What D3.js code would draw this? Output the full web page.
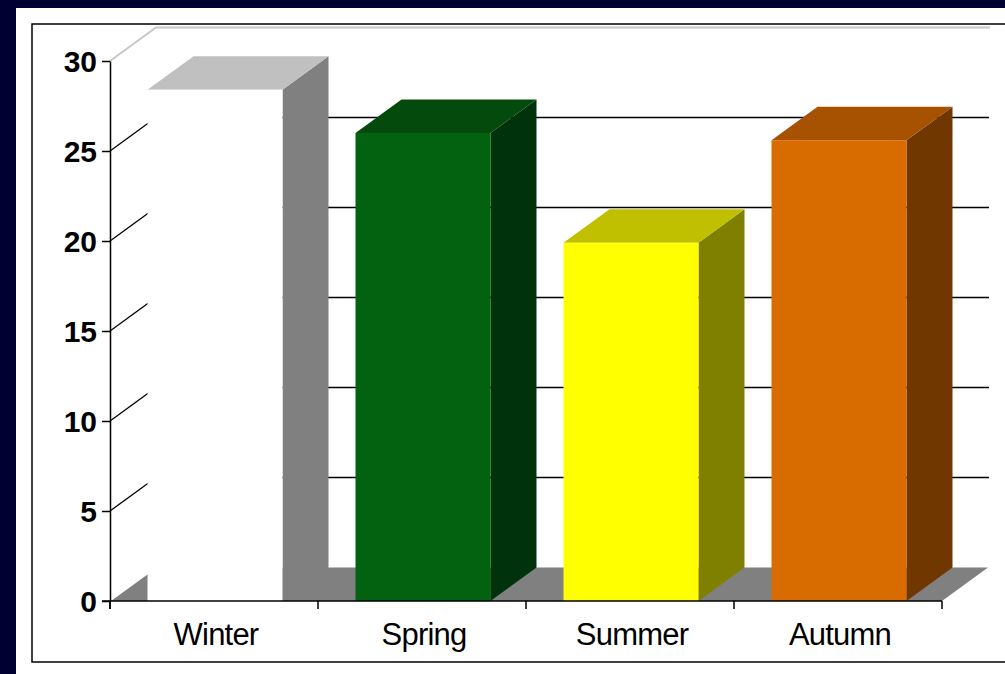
<!DOCTYPE html>
<html>
<head>
<meta charset="utf-8">
<script src="https://cdn.jsdelivr.net/npm/d3@7"></script>
<style>
  html, body { margin: 0; padding: 0; background: #000033; }
  svg { display: block; }
</style>
</head>
<body>
<div id="chart"></div>
<script>
const seasons = ["Winter", "Spring", "Summer", "Autumn"];
const values = [28.4, 26.0, 19.9, 25.6];
const frontColors = ["#ffffff", "#03620f", "#ffff00", "#d96c00"];
const topColors = ["#c0c0c0", "#044a0d", "#c0c000", "#a65200"];
const sideColors = ["#808080", "#00330b", "#808000", "#703800"];
const yTicks = [0, 5, 10, 15, 20, 25, 30];

const W = 1005, H = 674;
const depth = {dx: 46, dy: -33.5};

const svg = d3.select("#chart").append("svg")
    .attr("width", W)
    .attr("height", H);

// navy background + white panel + black frame
svg.append("rect").attr("width", W).attr("height", H).attr("fill", "#000033");
svg.append("rect").attr("x", 16).attr("y", 8).attr("width", W).attr("height", H).attr("fill", "#fff");
svg.append("rect").attr("x", 32).attr("y", 24).attr("width", W).attr("height", 638)
    .attr("fill", "none").attr("stroke", "#000").attr("stroke-width", 1.5);

const x = d3.scaleBand()
    .domain(seasons)
    .range([110, 942])
    .paddingInner(0.351)
    .paddingOuter(0.1755);

const y = d3.scaleLinear().domain([0, 30]).range([601, 61]);

const x0 = x.range()[0], x1 = x.range()[1];

// floor
svg.append("path")
    .attr("d", `M${x0},${y(0)}L${x1},${y(0)}L${x1 + depth.dx},${y(0) + depth.dy}L${x0 + depth.dx},${y(0) + depth.dy}Z`)
    .attr("fill", "#808080");
svg.append("line")
    .attr("x1", x0).attr("y1", y(0))
    .attr("x2", x0 + depth.dx).attr("y2", y(0) + depth.dy)
    .attr("stroke", "#fff").attr("stroke-width", 1.2);

// gridlines on back wall and side wall
const grid = svg.append("g");
yTicks.filter(t => t > 0 && t < 30).forEach(t => {
    grid.append("line")
        .attr("x1", x0 + depth.dx).attr("y1", y(t) + depth.dy)
        .attr("x2", x1 + depth.dx + 1).attr("y2", y(t) + depth.dy)
        .attr("stroke", "#000").attr("stroke-width", 1.5);
    grid.append("line")
        .attr("x1", x0).attr("y1", y(t))
        .attr("x2", x0 + depth.dx).attr("y2", y(t) + depth.dy)
        .attr("stroke", "#000").attr("stroke-width", 1.3);
});
// wall top edges (light grey)
grid.append("path")
    .attr("d", `M${x0},${y(30)}L${x0 + depth.dx},${y(30) + depth.dy}L${x1 + depth.dx + 2},${y(30) + depth.dy}`)
    .attr("fill", "none").attr("stroke", "#c8c8c8").attr("stroke-width", 2);

// bars
const bars = svg.append("g").selectAll("g")
    .data(seasons.map((s, i) => ({season: s, value: values[i], i})))
    .join("g");

bars.each(function(d) {
    const g = d3.select(this);
    const bx0 = x(d.season) + 1;
    const bx1 = bx0 + x.bandwidth();
    const top = y(d.value), base = y(0);
    // side
    g.append("path")
        .attr("d", `M${bx1},${top}L${bx1 + depth.dx},${top + depth.dy}L${bx1 + depth.dx},${base + depth.dy}L${bx1},${base}Z`)
        .attr("fill", sideColors[d.i]);
    // top
    g.append("path")
        .attr("d", `M${bx0},${top}L${bx0 + depth.dx},${top + depth.dy}L${bx1 + depth.dx},${top + depth.dy}L${bx1},${top}Z`)
        .attr("fill", topColors[d.i]);
    // front
    g.append("rect")
        .attr("x", bx0).attr("y", top)
        .attr("width", x.bandwidth()).attr("height", base - top)
        .attr("fill", frontColors[d.i]);
});

// y axis
const yAxis = svg.append("g")
    .attr("transform", `translate(${x0},0)`)
    .call(d3.axisLeft(y).tickValues(yTicks).tickSize(8).tickPadding(5).tickSizeOuter(0));
yAxis.select(".domain").attr("stroke-width", 1.5);
yAxis.selectAll(".tick line").attr("stroke-width", 1.5);
yAxis.selectAll(".tick text")
    .attr("font-family", "Liberation Sans, Arial, sans-serif")
    .attr("font-size", "30px")
    .attr("font-weight", "bold")
    .attr("fill", "#000")
    .attr("dy", "0.36em");
// extend y axis line below floor
svg.append("line")
    .attr("x1", x0).attr("y1", y(0))
    .attr("x2", x0).attr("y2", y(0) + 8)
    .attr("stroke", "#000").attr("stroke-width", 1.5);

// x axis
const xAxisG = svg.append("g");
xAxisG.append("line")
    .attr("x1", x0 - 8).attr("y1", y(0))
    .attr("x2", x1).attr("y2", y(0))
    .attr("stroke", "#000").attr("stroke-width", 1.5);
d3.range(seasons.length + 1).forEach(i => {
    const tx = x0 + i * x.step();
    xAxisG.append("line")
        .attr("x1", tx).attr("y1", y(0))
        .attr("x2", tx).attr("y2", y(0) + 8)
        .attr("stroke", "#000").attr("stroke-width", 1.5);
});
xAxisG.selectAll("text.xLabel")
    .data(seasons)
    .join("text")
    .attr("class", "xLabel")
    .attr("x", d => x(d) + x.bandwidth() / 2 + 2)
    .attr("y", 645)
    .attr("text-anchor", "middle")
    .attr("font-family", "Liberation Sans, Arial, sans-serif")
    .attr("font-size", "31px")
    .attr("letter-spacing", "-0.8px")
    .attr("fill", "#000")
    .text(d => d);
</script>
</body>
</html>
